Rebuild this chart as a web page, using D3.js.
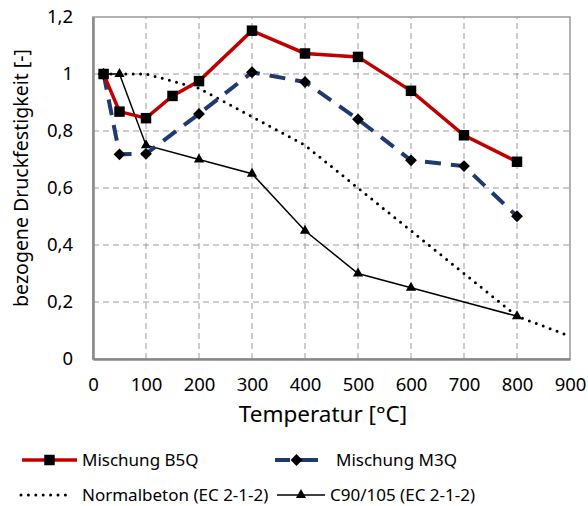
<!DOCTYPE html>
<html>
<head>
<meta charset="utf-8">
<script src="https://cdn.jsdelivr.net/npm/d3@7"></script>
<style>
  body { margin: 0; background: #fff; }
  text { font-family: "Noto Sans", "Open Sans", sans-serif; fill: #000; }
</style>
</head>
<body>
<svg id="chart" width="588" height="506"></svg>
<script>
// temperature [°C] and relative strength values
var tempB5Q = [20, 50, 100, 150, 200, 300, 400, 500, 600, 700, 800];
var valB5Q  = [1.0, 0.868, 0.845, 0.923, 0.975, 1.152, 1.072, 1.06, 0.941, 0.785, 0.692];

var tempM3Q = [20, 50, 100, 200, 300, 400, 500, 600, 700, 800];
var valM3Q  = [1.0, 0.718, 0.72, 0.86, 1.006, 0.972, 0.841, 0.697, 0.677, 0.501];

var tempNormal = [20, 100, 200, 300, 400, 500, 600, 700, 800, 900];
var valNormal  = [1.0, 1.0, 0.95, 0.85, 0.75, 0.6, 0.45, 0.3, 0.15, 0.08];

var tempC90 = [20, 50, 100, 200, 300, 400, 500, 600, 700, 800];
var valC90  = [1.0, 1.0, 0.75, 0.7, 0.65, 0.45, 0.3, 0.25, 0.2, 0.15];
var markC90 = [true, true, true, true, true, true, true, true, false, true];

var xTicks = [0, 100, 200, 300, 400, 500, 600, 700, 800, 900];
var yTicks = [0, 0.2, 0.4, 0.6, 0.8, 1.0, 1.2];

var svg = d3.select("#chart");
var x = d3.scaleLinear().domain([0, 900]).range([93, 570]);
var y = d3.scaleLinear().domain([0, 1.2]).range([359, 17]);

function fmt(v) { return d3.format("~g")(+v.toFixed(1)).replace(".", ","); }

// grid
var grid = svg.append("g");
grid.selectAll(".gx").data(xTicks.slice(1, -1)).enter().append("line")
  .attr("x1", function(d) { return x(d); }).attr("x2", function(d) { return x(d); })
  .attr("y1", y(0)).attr("y2", y(1.2))
  .attr("stroke", "#9a9a9a").attr("stroke-width", 1).attr("stroke-dasharray", "6,4");
grid.selectAll(".gy").data(yTicks.slice(1, -1)).enter().append("line")
  .attr("x1", x(0)).attr("x2", x(900))
  .attr("y1", function(d) { return y(d); }).attr("y2", function(d) { return y(d); })
  .attr("stroke", "#9a9a9a").attr("stroke-width", 1).attr("stroke-dasharray", "6,4");

// frame
svg.append("rect")
  .attr("x", x(0)).attr("y", y(1.2))
  .attr("width", x(900) - x(0)).attr("height", y(0) - y(1.2))
  .attr("fill", "none").attr("stroke", "#999").attr("stroke-width", 1.5);

// axes
var xAxis = svg.append("g").attr("transform", "translate(0," + y(0) + ")")
  .call(d3.axisBottom(x).tickValues(xTicks).tickSize(0).tickPadding(19));
var yAxis = svg.append("g").attr("transform", "translate(" + x(0) + ",0)")
  .call(d3.axisLeft(y).tickValues(yTicks).tickSize(0).tickPadding(20).tickFormat(fmt));
[xAxis, yAxis].forEach(function(a) {
  a.select(".domain").attr("stroke", "#888").attr("stroke-width", 2.5);
  a.selectAll("text").attr("font-size", 18.5).attr("font-family", "Noto Sans");
});

// titles
svg.append("text").attr("x", 323).attr("y", 422).attr("text-anchor", "middle")
  .attr("font-size", 22.5).text("Temperatur [°C]");
svg.append("text").attr("transform", "translate(28,178) rotate(-90)")
  .attr("text-anchor", "middle").attr("font-size", 19.5)
  .text("bezogene Druckfestigkeit [-]");

function pts(t, v) { return t.map(function(d, i) { return [d, v[i]]; }); }
var line = d3.line().x(function(d) { return x(d[0]); }).y(function(d) { return y(d[1]); });

var sym = {
  square: d3.symbol().type(d3.symbolSquare).size(110),
  diamond: d3.symbol().type(d3.symbolSquare).size(70),
  triangle: d3.symbol().type(d3.symbolTriangle).size(45)
};
function place(d) {
  return "translate(" + x(d[0]) + "," + y(d[1]) + ")";
}

// Normalbeton dotted
svg.append("path").datum(pts(tempNormal, valNormal)).attr("d", line)
  .attr("fill", "none").attr("stroke", "#000").attr("stroke-width", 3)
  .attr("stroke-linecap", "round").attr("stroke-dasharray", "0,7.4");

// C90/105
var c90 = pts(tempC90, valC90);
svg.append("path").datum(c90).attr("d", line)
  .attr("fill", "none").attr("stroke", "#000").attr("stroke-width", 1.5);
svg.selectAll(".tri").data(c90.filter(function(d, i) { return markC90[i]; })).enter()
  .append("path").attr("d", sym.triangle).attr("transform", place);

// M3Q
var m3q = pts(tempM3Q, valM3Q);
svg.append("path").datum(m3q).attr("d", line)
  .attr("fill", "none").attr("stroke", "#1f3a6e").attr("stroke-width", 4)
  .attr("stroke-dasharray", "16,10");
svg.selectAll(".dia").data(m3q).enter()
  .append("path").attr("d", sym.diamond)
  .attr("transform", function(d) { return place(d) + " rotate(45)"; });

// B5Q
var b5q = pts(tempB5Q, valB5Q);
svg.append("path").datum(b5q).attr("d", line)
  .attr("fill", "none").attr("stroke", "#c00000").attr("stroke-width", 3.5);
svg.selectAll(".sq").data(b5q).enter()
  .append("path").attr("d", sym.square).attr("transform", place);

// legend
var legend = [
  { name: "Mischung B5Q", x1: 22, x2: 77, y: 460, tx: 82, color: "#c00000", w: 3.5, dash: null, m: "square" },
  { name: "Mischung M3Q", x1: 275, x2: 318, y: 460, tx: 336, color: "#1f3a6e", w: 4, dash: "15,10,18", m: "diamond" },
  { name: "Normalbeton (EC 2-1-2)", x1: 21, x2: 72, y: 495, tx: 82, color: "#000", w: 3, dash: "0,7.4", m: null },
  { name: "C90/105 (EC 2-1-2)", x1: 277, x2: 325, y: 495, tx: 330, color: "#000", w: 1.5, dash: null, m: "triangle" }
];
var lg = svg.append("g").selectAll("g").data(legend).enter().append("g");
lg.append("line")
  .attr("x1", function(d) { return d.x1; }).attr("x2", function(d) { return d.x2; })
  .attr("y1", function(d) { return d.y; }).attr("y2", function(d) { return d.y; })
  .attr("stroke", function(d) { return d.color; }).attr("stroke-width", function(d) { return d.w; })
  .attr("stroke-linecap", function(d) { return d.m === null ? "round" : "butt"; })
  .attr("stroke-dasharray", function(d) { return d.dash; });
lg.filter(function(d) { return d.m; }).append("path")
  .attr("d", function(d) { return sym[d.m](); })
  .attr("transform", function(d) {
    return "translate(" + (d.x1 + d.x2) / 2 + "," + d.y + ")" + (d.m === "diamond" ? " rotate(45)" : "");
  });
lg.append("text").attr("x", function(d) { return d.tx; }).attr("y", function(d) { return d.y; })
  .attr("dy", "0.35em").attr("font-size", 17).text(function(d) { return d.name; });
</script>
</body>
</html>
